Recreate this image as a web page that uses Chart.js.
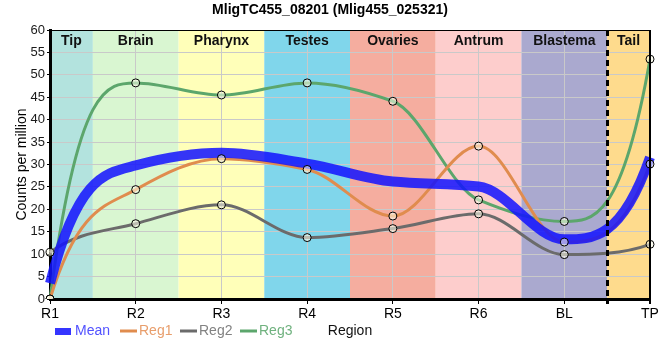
<!DOCTYPE html>
<html>
<head>
<meta charset="utf-8">
<script src="https://cdn.jsdelivr.net/npm/chart.js@4/dist/chart.umd.min.js"></script>
<style>
  html, body { margin: 0; padding: 0; background: #fff; }
  #wrap { width: 660px; height: 360px; position: relative; }
</style>
</head>
<body>
<div id="wrap"><canvas id="myChart" width="660" height="360"></canvas></div>
<script>
// data
var regions = ['R1', 'R2', 'R3', 'R4', 'R5', 'R6', 'BL', 'TP'];
var meanVals = [3.5, 29.8, 32.6, 30.2, 26.2, 25.1, 13.3, 31.6];
var reg1Vals = [0, 24.4, 31.3, 28.9, 18.5, 34.1, 12.7, 30.1];
var reg2Vals = [10.4, 16.8, 21.0, 13.7, 15.7, 19.0, 9.9, 12.2];
var reg3Vals = [0, 48.2, 45.5, 48.2, 44.1, 22.1, 17.3, 53.5];
var yTicks = [0, 5, 10, 15, 20, 25, 30, 35, 40, 45, 50, 55, 60];

// tissue bands, one for each region
var bandNames = ['Tip', 'Brain', 'Pharynx', 'Testes', 'Ovaries', 'Antrum', 'Blastema', 'Tail'];
var bandColors = ['#b3e3de', '#d9f6d1', '#ffffb9', '#80d6eb', '#f5ad9f', '#fdcdcc', '#aaa9cf', '#fedb8d'];

var FONT = "'Liberation Sans', Arial, sans-serif";

var meanColor = 'rgba(18, 18, 255, 0.85)';
var reg1Color = '#e08c4e';
var reg2Color = '#6b6b6b';
var reg3Color = '#5ca66c';

// markers sit on top of every line, so they get their own datasets
function markerSet(vals) {
	return {
		data: vals,
		showLine: false,
		pointRadius: 4,
		pointBorderWidth: 1,
		pointBorderColor: '#000',
		pointBackgroundColor: 'rgba(255, 255, 235, 0.55)'
	};
}

function lineSet(label, vals, color, width) {
	return {
		label: label,
		data: vals,
		borderColor: color,
		backgroundColor: color,
		borderWidth: width,
		pointRadius: 0,
		cubicInterpolationMode: 'monotone',
		borderCapStyle: 'butt',
		smooth: true
	};
}

// pchip style tangents: harmonic mean inside, steep ends
function setControlPoints(pts) {
	var n = pts.length;
	if (n < 3) return;
	var h = [], d = [], m = [];
	for (var i = 0; i < n - 1; i++) {
		h.push(pts[i + 1].x - pts[i].x);
		d.push((pts[i + 1].y - pts[i].y) / h[i]);
	}
	for (var i = 1; i < n - 1; i++) {
		if (d[i - 1] * d[i] <= 0) {
			m[i] = 0;
		} else {
			var w1 = 2 * h[i] + h[i - 1], w2 = h[i] + 2 * h[i - 1];
			m[i] = (w1 + w2) / (w1 / d[i - 1] + w2 / d[i]);
		}
	}
	function endSlope(dd, inner) {
		var s = 3 * dd - inner;
		if (s * dd <= 0) return 0;
		if (Math.abs(s) > Math.abs(3 * dd)) return 3 * dd;
		return s;
	}
	m[0] = endSlope(d[0], m[1]);
	m[n - 1] = endSlope(d[n - 2], m[n - 2]);
	for (var i = 0; i < n; i++) {
		var p = pts[i];
		var hl = i > 0 ? h[i - 1] : h[0];
		var hr = i < n - 1 ? h[i] : h[n - 2];
		p.cp1x = p.x - hl / 3;
		p.cp1y = p.y - m[i] * hl / 3;
		p.cp2x = p.x + hr / 3;
		p.cp2y = p.y + m[i] * hr / 3;
	}
}

var splinePlugin = {
	id: 'pchipSpline',
	beforeDatasetsDraw: function(chart) {
		chart.data.datasets.forEach(function(ds, idx) {
			if (!ds.smooth) return;
			var meta = chart.getDatasetMeta(idx);
			setControlPoints(meta.data);
			meta.dataset._pointsUpdated = true;
			meta.dataset._path = undefined;
		});
	}
};

// coloured tissue bands behind the grid
var bandsPlugin = {
	id: 'bands',
	beforeDraw: function(chart) {
		var ctx = chart.ctx;
		var area = chart.chartArea;
		var x = chart.scales.x;
		ctx.save();
		for (var i = 0; i < bandNames.length; i++) {
			var left = Math.max(x.getPixelForValue(i - 0.5), area.left);
			var right = Math.min(x.getPixelForValue(i + 0.5), area.right);
			ctx.fillStyle = bandColors[i];
			ctx.fillRect(left, area.top, right - left, area.bottom - area.top);
		}
		ctx.restore();
	},
	beforeDatasetsDraw: function(chart) {
		var ctx = chart.ctx;
		var area = chart.chartArea;
		var x = chart.scales.x;
		ctx.save();
		ctx.font = 'bold 14px ' + FONT;
		ctx.fillStyle = '#111';
		ctx.textAlign = 'center';
		ctx.textBaseline = 'middle';
		for (var i = 0; i < bandNames.length; i++) {
			var left = Math.max(x.getPixelForValue(i - 0.5), area.left);
			var right = Math.min(x.getPixelForValue(i + 0.5), area.right);
			ctx.fillText(bandNames[i], (left + right) / 2, area.top + 11);
		}
		ctx.restore();
	},
	afterDatasetsDraw: function(chart) {
		var ctx = chart.ctx;
		var area = chart.chartArea;
		var x = chart.scales.x;
		ctx.save();
		// dashed line between blastema and tail
		var dx = Math.round(x.getPixelForValue(6.5)) + 0.5;
		ctx.strokeStyle = '#000';
		ctx.lineWidth = 3;
		ctx.setLineDash([6, 4]);
		ctx.beginPath();
		ctx.moveTo(dx, area.top);
		ctx.lineTo(dx, area.bottom + 5);
		ctx.stroke();
		ctx.setLineDash([]);
		// frame: top and right
		ctx.lineWidth = 1;
		ctx.beginPath();
		ctx.moveTo(area.left, area.top + 0.5);
		ctx.lineTo(area.right, area.top + 0.5);
		ctx.stroke();
		ctx.lineWidth = 2;
		ctx.beginPath();
		ctx.moveTo(area.right, area.top);
		ctx.lineTo(area.right, area.bottom + 5);
		ctx.stroke();
		ctx.restore();
	}
};

// legend and axis titles drawn by hand, the legend shares a row with "Region"
var legendPlugin = {
	id: 'rowLegend',
	afterDraw: function(chart) {
		var ctx = chart.ctx;
		var area = chart.chartArea;
		var y = 331;
		var items = [
			{ text: 'Mean', color: meanColor, textColor: '#5252ff', box: true, x: 55 },
			{ text: 'Reg1', color: reg1Color, textColor: '#e89e6c', x: 120 },
			{ text: 'Reg2', color: reg2Color, textColor: '#828282', x: 180 },
			{ text: 'Reg3', color: reg3Color, textColor: '#70b27f', x: 240 }
		];
		ctx.save();
		ctx.font = '14px ' + FONT;
		ctx.textBaseline = 'middle';
		ctx.textAlign = 'left';
		items.forEach(function(it) {
			if (it.box) {
				ctx.fillStyle = it.color;
				ctx.fillRect(it.x, y - 3, 16, 7);
			} else {
				ctx.strokeStyle = it.color;
				ctx.lineWidth = 3;
				ctx.beginPath();
				ctx.moveTo(it.x, y);
				ctx.lineTo(it.x + 17, y);
				ctx.stroke();
			}
			ctx.fillStyle = it.textColor;
			ctx.fillText(it.text, it.x + (it.box ? 20 : 19), y);
		});
		ctx.fillStyle = '#111';
		ctx.textAlign = 'center';
		ctx.fillText('Region', (area.left + area.right) / 2, y);

		// y axis title
		ctx.translate(22, (area.top + area.bottom) / 2);
		ctx.rotate(-Math.PI / 2);
		ctx.fillStyle = '#000';
		ctx.fillText('Counts per million', 0, 0);
		ctx.restore();

		// main title
		ctx.save();
		ctx.font = 'bold 14px ' + FONT;
		ctx.fillStyle = '#000';
		ctx.textAlign = 'center';
		ctx.textBaseline = 'middle';
		ctx.fillText('MligTC455_08201 (Mlig455_025321)', 330, 10);
		ctx.restore();
	}
};

var ctx = document.getElementById('myChart');
var myChart = new Chart(ctx, {
	type: 'line',
	data: {
		labels: regions,
		datasets: [
			markerSet(reg1Vals),
			markerSet(reg2Vals),
			markerSet(reg3Vals),
			lineSet('Mean', meanVals, meanColor, 10),
			lineSet('Reg1', reg1Vals, reg1Color, 3),
			lineSet('Reg2', reg2Vals, reg2Color, 3),
			lineSet('Reg3', reg3Vals, reg3Color, 3)
		]
	},
	options: {
		responsive: false,
		animation: false,
		layout: { padding: { top: 30, right: 10, left: 0, bottom: 0 } },
		plugins: {
			legend: { display: false },
			tooltip: { enabled: false },
			title: { display: false }
		},
		scales: {
			x: {
				offset: false,
				grid: { color: '#c9c9c9', lineWidth: 1, tickLength: 5, tickColor: '#000' },
				border: { color: '#000', width: 3 },
				ticks: { color: '#000', font: { family: FONT, size: 14 }, padding: 2, maxRotation: 0 },
				afterFit: function(scale) {
					scale.height = 61;
					scale.paddingRight = 0;
				}
			},
			y: {
				min: 0,
				max: 60,
				afterBuildTicks: function(scale) {
					scale.ticks = yTicks.map(function(v) { return { value: v }; });
				},
				grid: { color: '#c9c9c9', lineWidth: 1, drawTicks: true, tickLength: 3, tickColor: '#000' },
				border: { color: '#000', width: 3 },
				ticks: { color: '#1a1a1a', font: { family: FONT, size: 13 }, padding: 2 },
				afterFit: function(scale) { scale.width = 50; }
			}
		}
	},
	plugins: [splinePlugin, bandsPlugin, legendPlugin]
});
</script>
</body>
</html>
